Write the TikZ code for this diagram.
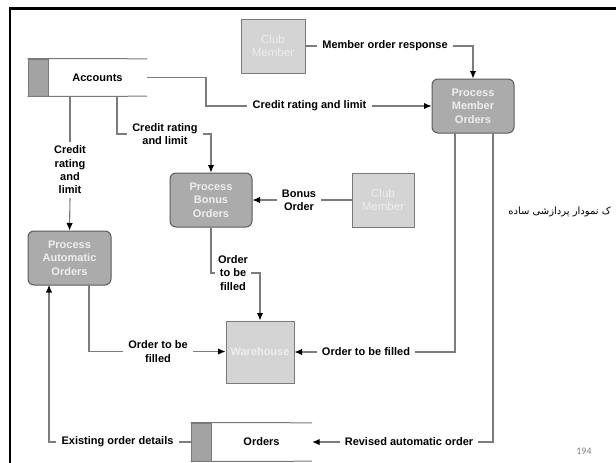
\documentclass[tikz,border=0pt]{standalone}
\usepackage{fontspec}
\setmainfont{Liberation Sans}
\newfontfamily\farsifont[Script=Arabic]{DejaVu Sans}
\newfontfamily\numfont{Carlito}
\TeXXeTstate=1
\usetikzlibrary{arrows.meta,calc}
\definecolor{procfill}{HTML}{ABABAB}
\definecolor{procedge}{HTML}{5A5A5A}
\definecolor{extfill}{HTML}{D4D4D4}
\definecolor{extedge}{HTML}{7A7A7A}
\definecolor{storefill}{HTML}{A3A3A3}
\definecolor{flowgray}{HTML}{7C7C7C}
\definecolor{boxtext}{HTML}{EEEEEE}
\tikzset{
  proc/.style={draw=procedge, fill=procfill, rounded corners=6pt, line width=1pt,
    text=boxtext, font=\bfseries\fontsize{11}{13.3}\selectfont, align=center,
    minimum width=82pt, minimum height=54pt, inner sep=0pt},
  extent/.style={draw=extedge, fill=extfill, line width=1pt,
    text=boxtext, font=\fontsize{11.5}{13.5}\selectfont, align=center,
    minimum width=64pt, minimum height=54pt, inner sep=0pt},
  storetab/.style={draw=extedge, fill=storefill, line width=1pt,
    minimum width=20pt, inner sep=0pt},
  storetext/.style={font=\bfseries\fontsize{11}{13.3}\selectfont, inner sep=0pt},
  lbl/.style={font=\bfseries\fontsize{11}{13.3}\selectfont, align=center, inner sep=5pt},
  flow/.style={draw=flowgray, line width=1.1pt},
  tip/.style={-{Latex[length=7.5pt,width=6.5pt,color=black]}},
}
\begin{document}
\begin{tikzpicture}[x=1pt,y=-1pt]
\useasboundingbox (0,0) rectangle (616,463);

% slide frame
\draw[line width=2.5pt] (10,463) -- (10,8.5) -- (616,8.5);

% external entities and processes
\node[extent] (cmtop) at (273,46) {Club\\Member};
\node[proc] (pmo) at (473,106) {Process\\Member\\Orders};
\node[proc] (pbo) at (211,200) {Process\\Bonus\\Orders};
\node[extent, minimum width=62pt] (cmmid) at (383,200) {Club\\Member};
\node[proc, minimum width=83pt] (pao) at (69.5,258) {Process\\Automatic\\Orders};
\node[extent, minimum width=68pt, minimum height=62pt, font=\bfseries\fontsize{11}{13.3}\selectfont] (wh) at (260,352) {Warehouse};

% data store: Accounts
\node[storetab, minimum height=37pt] (acctab) at (38,77.5) {};
\node[storetext, minimum width=99pt, minimum height=37pt] (acc) at (97.5,77.5) {Accounts};
\draw[draw=extedge, line width=1pt] (acctab.north west) -- (acc.north east)
      (acctab.south west) -- (acc.south east);

% data store: Orders
\node[storetab, minimum height=38pt] (ordtab) at (201,442) {};
\node[storetext, minimum width=101pt, minimum height=38pt] (ord) at (261.5,442) {Orders};
\draw[draw=extedge, line width=1pt] (ordtab.north west) -- (ord.north east)
      (ordtab.south west) -- (ord.south east);

% flow labels
\node[lbl] (lmor) at (385,46) {Member order response};
\node[lbl] (lcr1) at (309.5,106) {Credit rating and limit};
\node[lbl] (lcr2) at (165,134) {Credit rating\\and limit};
\node[lbl, inner sep=4pt] (lcr3) at (70,170) {Credit\\rating\\and\\limit};
\node[lbl] (lbo) at (299,200) {Bonus\\Order};
\node[lbl, inner sep=3pt] (lof1) at (233,273) {Order\\to be\\filled};
\node[lbl] (lof2) at (158,351.5) {Order to be\\filled};
\node[lbl] (lof3) at (366,352) {Order to be filled};
\node[lbl] (lrao) at (409,442) {Revised automatic order};
\node[lbl] (leod) at (117.5,442) {Existing order details};

% bend points and port points
\coordinate (k1) at (206,106);
\coordinate (a2) at (117,96);
\coordinate (a3) at (70,96);
\coordinate (paoout) at (89,285);
\coordinate (paoin) at (49,285);
\coordinate (pmoa) at (455,133);
\coordinate (pmob) at (493,133);

% flows
\draw[flow] (cmtop.east) -- (lmor.west);
\draw[flow, tip] (lmor.east) -| (pmo.north);
\draw[flow] (acc.east) -| (k1) -- (lcr1.west);
\draw[flow, tip] (lcr1.east) -- (pmo.west);
\draw[flow] (a2) |- (lcr2.west);
\draw[flow, tip] (lcr2.east) -| (pbo.north);
\draw[flow] (a3) -- (lcr3.north);
\draw[flow, tip] (lcr3.south) -- (pao.north);
\draw[flow] (cmmid.west) -- (lbo.east);
\draw[flow, tip] (lbo.west) -- (pbo.east);
\draw[flow] (pbo.south) |- (lof1.west);
\draw[flow, tip] (lof1.east) -| (wh.north);
\draw[flow] (paoout) |- (lof2.west);
\draw[flow, tip] (lof2.east) -- (wh.west |- lof2.east);
\draw[flow] (pmoa) |- (lof3.east);
\draw[flow, tip] (lof3.west) -- (wh.east);
\draw[flow] (pmob) |- (lrao.east);
\draw[flow, tip] (lrao.west) -- (ord.east);
\draw[flow] (ordtab.west) -- (leod.east);
\draw[flow, tip] (leod.west) -| (paoin);

% slide caption and page number
\node[anchor=east, font=\farsifont\fontsize{10}{12}\selectfont, inner sep=0pt] (cap) at (611,212) {\beginR ک نمودار پردازشی ساده\endR};
\node[text=gray, font=\numfont\fontsize{10}{12}\selectfont, inner sep=0pt] (pg) at (584,451) {194};
\end{tikzpicture}
\end{document}
